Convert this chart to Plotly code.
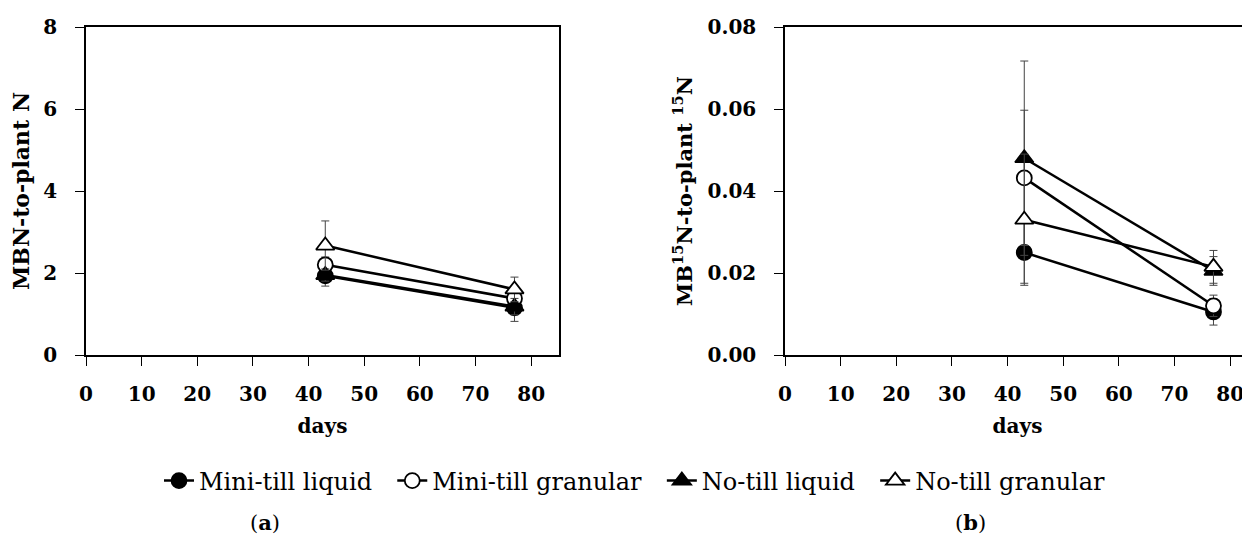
import plotly.graph_objects as go

days = [43, 77]
series_names = ["Mini-till liquid", "Mini-till granular", "No-till liquid", "No-till granular"]

# Panel (a): MBN-to-plant N
a_mean = {
    "Mini-till liquid": [1.93, 1.15],
    "Mini-till granular": [2.2, 1.38],
    "No-till liquid": [1.95, 1.18],
    "No-till granular": [2.67, 1.6],
}
a_err = {
    "Mini-till liquid": [0.25, 0.33],
    "Mini-till granular": [0.19, 0.12],
    "No-till liquid": [0.15, 0.2],
    "No-till granular": [0.6, 0.3],
}

# Panel (b): MB15N-to-plant 15N
b_mean = {
    "Mini-till liquid": [0.025, 0.0105],
    "Mini-till granular": [0.0432, 0.012],
    "No-till liquid": [0.048, 0.0205],
    "No-till granular": [0.033, 0.0215],
}
b_err = {
    "Mini-till liquid": [0.0075, 0.0032],
    "Mini-till granular": [0.0165, 0.0026],
    "No-till liquid": [0.0237, 0.0035],
    "No-till granular": [0.016, 0.004],
}

styles = {
    "Mini-till liquid": dict(symbol="circle", color="black", size=15),
    "Mini-till granular": dict(symbol="circle", color="white", size=15),
    "No-till liquid": dict(symbol="triangle-up", color="black", size=16),
    "No-till granular": dict(symbol="triangle-up", color="white", size=16),
}

AX_FONT = "DejaVu Serif"
fig = go.Figure()

NB = "\u00a0"
for panel, (means, errs, xa, ya) in enumerate([(a_mean, a_err, "x", "y"), (b_mean, b_err, "x2", "y2")]):
    for i, name in enumerate(series_names):
        st = styles[name]
        label = name + (NB * 2 if i < len(series_names) - 1 else "")
        fig.add_trace(go.Scatter(
            x=days, y=means[name], name=label, mode="lines+markers",
            xaxis=xa, yaxis=ya, showlegend=(panel == 0),
            line=dict(color="black", width=2.5),
            marker=dict(symbol=st["symbol"], size=st["size"], color=st["color"],
                        line=dict(color="black", width=1.8)),
            error_y=dict(type="data", array=errs[name], color="#444", thickness=1, width=4),
        ))

W, H = 1250, 545
OFF = 8  # page offset of the plot div
ML, MR, MT = 86 - OFF, OFF, 27 - OFF
MB = H - (355 - OFF)
PW, PH = W - ML - MR, H - MT - MB


def px_x(p):
    return (p - OFF - ML) / PW


def px_y(p):
    return (H - MB - (p - OFF)) / PH


axis_common = dict(
    showline=True, linecolor="black", linewidth=1.5, ticks="outside", ticklen=9,
    tickcolor="black", showgrid=False, zeroline=False, automargin=False,
    tickfont=dict(family=AX_FONT, size=20, color="black"),
)
xtitle_font = dict(family=AX_FONT, size=20, color="black")

fig.update_layout(
    width=W, height=H, plot_bgcolor="white", paper_bgcolor="white",
    margin=dict(l=ML, r=MR, t=MT, b=MB, pad=0),
    font=dict(family=AX_FONT, color="black"),
    xaxis=dict(axis_common, domain=[0, px_x(559)], range=[0, 85], dtick=10, mirror=True,
               ticklabelstandoff=11,
               title=dict(text="<b>days</b>", font=xtitle_font, standoff=14),
               tickprefix="<b>", ticksuffix="</b>", anchor="y"),
    yaxis=dict(axis_common, domain=[0, 1], range=[0, 8], dtick=2, mirror=True,
               ticklabelstandoff=14,
               title=dict(text="<b>MBN-to-plant N</b>", font=dict(family=AX_FONT, size=22, color="black"), standoff=9),
               tickprefix="<b>", ticksuffix="</b>", anchor="x"),
    xaxis2=dict(axis_common, domain=[px_x(785), 1.0], range=[0, (1250 - 785) / (473 / 85)], dtick=10, mirror=True,
                ticklabelstandoff=11,
                title=dict(text="<b>days</b>", font=xtitle_font, standoff=14),
                tickprefix="<b>", ticksuffix="</b>", anchor="y2"),
    yaxis2=dict(axis_common, domain=[0, 1], range=[0, 0.08], dtick=0.02, tickformat=".2f", mirror=False,
                ticklabelstandoff=14,
                title=dict(text=NB * 3 + "<b>MB<sup>15</sup>N-to-plant <sup>15</sup>N</b>",
                           font=dict(family=AX_FONT, size=21, color="black"), standoff=9),
                tickprefix="<b>", ticksuffix="</b>", anchor="x2"),
    legend=dict(orientation="h", x=px_x(635), xanchor="center", y=px_y(481), yanchor="middle",
                font=dict(family=AX_FONT, size=24, color="black"), itemwidth=30,
                bgcolor="rgba(0,0,0,0)", traceorder="normal"),
    annotations=[
        dict(text="(<b>a</b>)", x=px_x(265), y=px_y(522), xref="paper", yref="paper",
             xanchor="center", yanchor="middle",
             showarrow=False, font=dict(family=AX_FONT, size=21, color="black")),
        dict(text="(<b>b</b>)", x=px_x(970), y=px_y(522), xref="paper", yref="paper",
             xanchor="center", yanchor="middle",
             showarrow=False, font=dict(family=AX_FONT, size=21, color="black")),
    ],
)

fig.write_html("out.html")
